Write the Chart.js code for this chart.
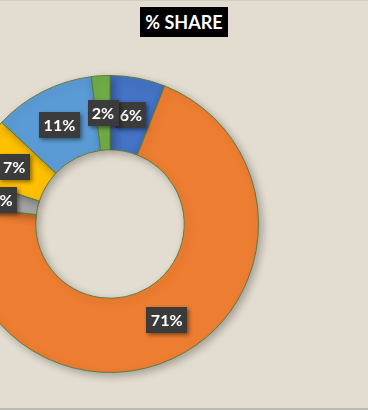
<!DOCTYPE html>
<html>
<head>
<meta charset="utf-8">
<script src="https://cdn.jsdelivr.net/npm/chart.js@4"></script>
<style>
  html, body { margin: 0; padding: 0; }
  body { width: 368px; height: 410px; overflow: hidden; position: relative; background: #E3DCD0; }
  #frame { position: absolute; left: 0; top: 0; width: 368px; height: 410px; box-sizing: border-box; border-top: 1px solid #D0CCC6; border-bottom: 2px solid #BDBAB5; pointer-events: none; z-index: 3; }
  #wrap { position: absolute; left: -150px; top: 0; width: 520px; height: 410px; }
  #title { position: absolute; left: 140px; top: 7px; width: 88px; height: 30px; background: #000; color: #fff;
           font-family: Lato, "Open Sans", sans-serif; font-weight: bold; font-size: 18px; line-height: 30px; text-align: center; z-index: 2; }
</style>
</head>
<body>
<div id="wrap"><canvas id="c" width="520" height="410"></canvas></div>
<div id="title">% SHARE</div>
<div id="frame"></div>
<script>
const categories = ["Blue", "Orange", "Gray", "Yellow", "Light Blue", "Green"];
const shareValues = [6, 71, 3, 7, 11, 2];
const labelTexts = ["6%", "71%", "3%", "7%", "11%", "2%"];
const sliceColors = ["#4472C4", "#ED7D31", "#A5A5A5", "#FFC000", "#5B9BD5", "#70AD47"];

const shadowPlugin = {
  id: 'ringShadow',
  beforeDatasetsDraw(chart) {
    const ctx = chart.ctx;
    ctx.save();
    ctx.shadowColor = 'rgba(0,0,0,0.28)';
    ctx.shadowBlur = 8;
    ctx.shadowOffsetX = 3;
    ctx.shadowOffsetY = 3;
  },
  afterDatasetsDraw(chart) {
    chart.ctx.restore();
  }
};

const boxLabels = {
  id: 'boxLabels',
  afterDraw(chart) {
    const ctx = chart.ctx;
    const meta = chart.getDatasetMeta(0);
    ctx.save();
    ctx.font = 'bold 16px Lato, "Open Sans", sans-serif';
    ctx.textAlign = 'center';
    ctx.textBaseline = 'middle';
    meta.data.forEach((arc, i) => {
      const p = arc.tooltipPosition();
      const t = labelTexts[i];
      const w = Math.round(ctx.measureText(t).width) + 9;
      const h = 26;
      const x = Math.round(p.x - w / 2), y = Math.round(p.y - h / 2);
      ctx.save();
      ctx.shadowColor = 'rgba(0,0,0,0.45)';
      ctx.shadowBlur = 4;
      ctx.shadowOffsetX = 2;
      ctx.shadowOffsetY = 2;
      ctx.fillStyle = '#3B3B3B';
      ctx.fillRect(x, y, w, h);
      ctx.restore();
      ctx.fillStyle = '#FFFFFF';
      ctx.fillText(t, p.x, p.y + 1);
    });
    ctx.restore();
  }
};

new Chart(document.getElementById('c'), {
  type: 'doughnut',
  data: {
    labels: categories,
    datasets: [{
      data: shareValues,
      backgroundColor: sliceColors,
      borderColor: '#5E7A3C',
      borderWidth: 1,
      hoverOffset: 0
    }]
  },
  options: {
    responsive: false,
    devicePixelRatio: 1,
    animation: false,
    events: [],
    cutout: '50%',
    layout: { padding: { top: 75, bottom: 37, left: 0, right: 0 } },
    plugins: { legend: { display: false }, title: { display: false }, tooltip: { enabled: false } }
  },
  plugins: [shadowPlugin, boxLabels]
});
</script>
</body>
</html>
